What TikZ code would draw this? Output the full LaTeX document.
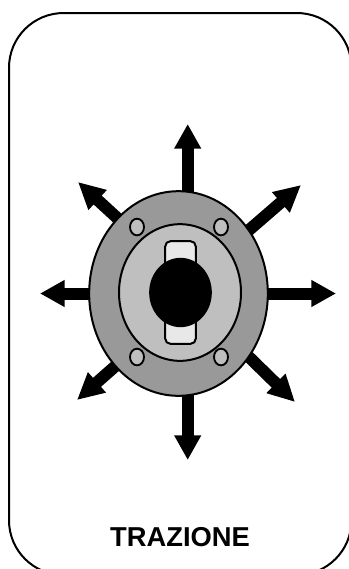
\documentclass[tikz,border=0pt]{standalone}
\usepackage{fontspec}
\setmainfont{Liberation Sans}
\usetikzlibrary{shapes.geometric, arrows.meta, backgrounds}
\definecolor{platedark}{gray}{0.6}
\definecolor{platemid}{gray}{0.75}
\definecolor{slotlight}{gray}{0.91}
\begin{document}
\begin{tikzpicture}[
    x=0.75pt, y=-0.75pt,
    plate/.style={ellipse, draw=black, line width=1.5pt, inner sep=0pt, outer sep=0pt},
    bolt/.style={plate, fill=platemid, line width=1.4pt, minimum width=10.5pt, minimum height=12.5pt},
    push/.style={line width=9pt, -{Triangle[length=18.5pt, width=19pt]}, shorten <=-4pt},
    pushdiag/.style={push, -{Triangle[length=20pt, width=19pt]}}
]
    \useasboundingbox (0,0) rectangle (349,569);
    \begin{scope}
    \clip (0,0) rectangle (349,569);
    \draw[line width=1.5pt, rounded corners=41pt] (9,13) rectangle (351.5,575);
    \end{scope}

    \node (body) [plate, fill=platedark, minimum width=134pt, minimum height=153.5pt] at (178.5,293.5) {};
    \node (ring) [plate, fill=platemid, minimum width=91.5pt, minimum height=102.5pt] at (180,292.5) {};
    \node (slot) [rectangle, rounded corners=4pt, draw=black, line width=1.5pt, fill=slotlight, minimum width=23pt, minimum height=77pt, inner sep=0pt, outer sep=0pt] at (180.5,292.5) {};
    \node (knob) [ellipse, fill=black, minimum width=47pt, minimum height=52pt, inner sep=0pt] at (180.5,292.5) {};
    \node (boltnw) [bolt] at (137,227) {};
    \node (boltne) [bolt] at (221,227) {};
    \node (boltsw) [bolt] at (137,357) {};
    \node (boltse) [bolt] at (221,357) {};

    \coordinate (tipn) at (187.7,124);
    \coordinate (tips) at (187.7,460);
    \coordinate (tipw) at (40,293.5);
    \coordinate (tipe) at (336,293.5);
    \coordinate (tipnw) at (78,182);
    \coordinate (tipne) at (301,185);
    \coordinate (tipsw) at (77,400);
    \coordinate (tipse) at (295,402);

    \begin{scope}[on background layer]
    \draw [push] (tipn |- body.85) -- (tipn);
    \draw [push] (tips |- body.275) -- (tips);
    \draw [push] (body.west) -- (tipw);
    \draw [push] (body.east) -- (tipe);
    \draw [pushdiag] (body.129) -- (tipnw);
    \draw [pushdiag] (body.42) -- (tipne);
    \draw [pushdiag] (body.229) -- (tipsw);
    \draw [pushdiag] (body.318) -- (tipse);
    \end{scope}

    \node (title) [font=\fontsize{20.5}{24}\selectfont\bfseries] at (180,537) {TRAZIONE};
\end{tikzpicture}
\end{document}
